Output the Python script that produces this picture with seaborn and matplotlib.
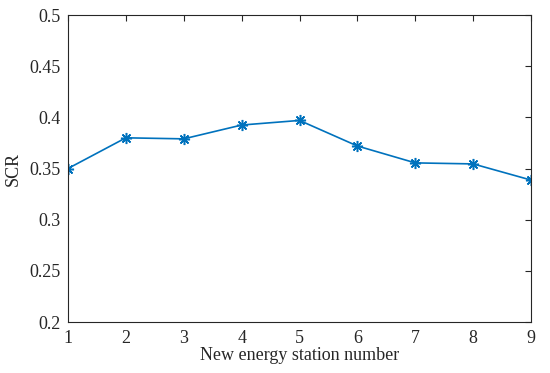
import matplotlib
matplotlib.use("Agg")
import matplotlib.pyplot as plt
import seaborn as sns
import pandas as pd

stations = [1, 2, 3, 4, 5, 6, 7, 8, 9]
scr = [0.350, 0.380, 0.379, 0.3925, 0.397, 0.372, 0.3555, 0.3545, 0.3387]
yticks = [0.2, 0.25, 0.3, 0.35, 0.4, 0.45, 0.5]
ytick_labels = ["0.2", "0.25", "0.3", "0.35", "0.4", "0.45", "0.5"]

sns.set_theme(style="white")
plt.rcParams['font.family'] = ['Liberation Serif', 'DejaVu Serif']

df = pd.DataFrame({"station": stations, "SCR": scr})

fig = plt.figure(figsize=(5.5, 3.73), dpi=100)
ax = fig.add_axes([0.1236, 0.1367, 0.842, 0.823])
sns.lineplot(data=df, x="station", y="SCR", ax=ax, color="#0072BD",
             marker=(8, 2, 0), markersize=8, markeredgewidth=1.1,
             markeredgecolor="#0072BD", linewidth=1.2)

ax.set_xlim(1, 9)
ax.set_ylim(0.2, 0.5)
ax.set_xticks(stations)
ax.set_xticklabels([str(s) for s in stations])
ax.set_yticks(yticks)
ax.set_yticklabels(ytick_labels)
ax.tick_params(direction="in", top=True, right=True, length=4, width=0.8,
               color="#262626", labelsize=13, labelcolor="#262626")
ax.tick_params(axis="x", pad=6)
ax.tick_params(axis="y", pad=5)
for s in ax.spines.values():
    s.set_color("#262626")
    s.set_linewidth(0.8)
ax.set_xlabel("New energy station number", fontsize=13, color="#262626", labelpad=0)
ax.set_ylabel("SCR", fontsize=13, color="#262626", labelpad=6)

fig.savefig("out.png", dpi=100)
